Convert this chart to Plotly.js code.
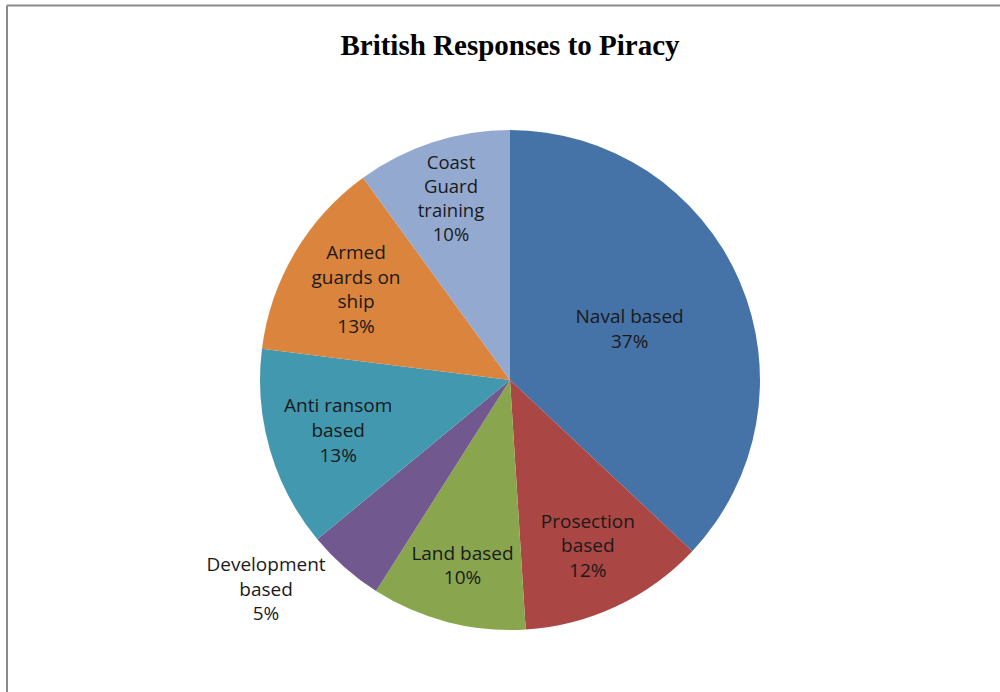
<!DOCTYPE html>
<html>
<head>
<meta charset="utf-8">
<script src="https://cdn.plot.ly/plotly-3.0.1.min.js"></script>
<style>html,body{margin:0;padding:0;background:#fff;}#chart{width:1000px;height:692px;}</style>
</head>
<body>
<div id="chart"></div>
<script>
const categories = ["Naval based", "Prosection based", "Land based", "Development based", "Anti ransom based", "Armed guards on ship", "Coast Guard training"];
const displayLabels = ["Naval based", "Prosection<br>based", "Land based", "Development<br>based", "Anti ransom<br>based", "Armed<br>guards on<br>ship", "Coast<br>Guard<br>training"];
const shares = [37, 12, 10, 5, 13, 13, 10];
const sliceColors = ["#4572A7", "#AA4643", "#89A54E", "#71588F", "#4198AF", "#DB843D", "#93A9CF"];
const textPositions = ["inside", "inside", "inside", "outside", "inside", "inside", "inside"];

const trace = {
  type: "pie",
  labels: categories,
  values: shares,
  customdata: displayLabels,
  sort: false,
  direction: "clockwise",
  rotation: 0,
  marker: {colors: sliceColors, line: {color: "#ffffff", width: 0}},
  texttemplate: "%{customdata}<br>%{percent:.0%}",
  textposition: textPositions,
  insidetextorientation: "horizontal",
  textfont: {family: "Open Sans, Liberation Sans, sans-serif", size: 19, color: "#1a1a1a"},
  outsidetextfont: {family: "Open Sans, Liberation Sans, sans-serif", size: 19, color: "#1a1a1a"},
  hoverinfo: "label+percent",
  domain: {x: [0.26, 0.76], y: [0.0896, 0.8121]},
  automargin: false
};

const layout = {
  width: 1000, height: 692,
  margin: {l: 0, r: 0, t: 0, b: 0},
  paper_bgcolor: "#ffffff",
  showlegend: false,
  title: {text: "<b>British Responses to Piracy</b>", x: 0.51, xanchor: "center", y: 0.935, yanchor: "middle",
          font: {family: "Liberation Serif, Times New Roman, serif", size: 29, color: "#000000"}},
  shapes: [
    {type: "line", xref: "paper", yref: "paper", x0: 0.007, x1: 0.007, y0: 0, y1: 0.992, line: {color: "#8a8a8a", width: 2}},
    {type: "line", xref: "paper", yref: "paper", x0: 0.007, x1: 1, y0: 0.992, y1: 0.992, line: {color: "#8a8a8a", width: 2}}
  ]
};

Plotly.newPlot("chart", [trace], layout, {displayModeBar: false, staticPlot: true});
</script>
</body>
</html>
